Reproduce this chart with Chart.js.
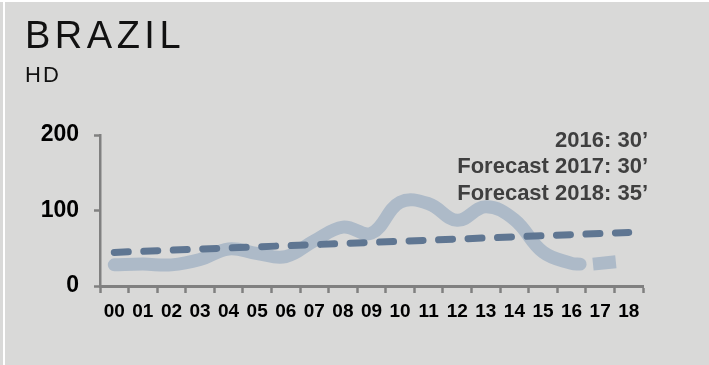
<!DOCTYPE html>
<html>
<head>
<meta charset="utf-8">
<script src="https://cdn.jsdelivr.net/npm/chart.js@4/dist/chart.umd.min.js"></script>
<style>
  html, body { margin: 0; padding: 0; }
  body { width: 709px; height: 365px; background: #d9d9d8; position: relative; overflow: hidden; font-family: "Liberation Sans", Arial, sans-serif; }
  .edge-top { position: absolute; left: 0; top: 0; width: 709px; height: 2px; background: #ffffff; }
  .edge-left { position: absolute; left: 3px; top: 0; width: 2px; height: 365px; background: #ffffff; }
  .title { position: absolute; left: 25px; top: 16px; font-size: 38px; line-height: 38px; letter-spacing: 4.5px; color: #111; font-weight: 400; }
  .subtitle { position: absolute; left: 25px; top: 64px; font-size: 22px; line-height: 22px; letter-spacing: 2px; color: #111; }
  #wrap { position: absolute; left: 0; top: 0; width: 709px; height: 365px; }
</style>
</head>
<body>
<div class="edge-top"></div>
<div class="edge-left"></div>
<div id="wrap"><canvas id="chart" width="709" height="365"></canvas></div>
<div class="title">BRAZIL</div>
<div class="subtitle">HD</div>
<script>
// Year labels along the bottom axis
const years = ['00','01','02','03','04','05','06','07','08','09','10','11','12','13','14','15','16','17','18'];
// Value axis ticks
const yTicks = [0, 100, 200];

// Measured HD values (position in years from 2000)
const actualYear = [0, 1, 2, 3, 4, 5, 6, 7, 8, 9, 10, 11, 12, 13, 14, 15, 16, 16.3];
const actualHD   = [28, 29, 28, 35, 49, 43, 39, 60, 78, 70, 111, 109, 87, 105, 88, 45, 30, 29];

// Forecast stub after 2016
const forecastYear = [16.75, 17.55];
const forecastHD   = [29, 32];

// Long-run trend (start and end of the straight dashed line)
const trendYear = [0, 18];
const trendHD   = [44.5, 71];

// Notes printed at the top right of the plot
const notes = ['2016: 30\u2019', 'Forecast 2017: 30\u2019', 'Forecast 2018: 35\u2019'];

const toPoints = (xs, ys) => xs.map((x, i) => ({ x: x, y: ys[i] }));

const AXIS_GREY = '#808080';
const LIGHT = '#adbac8';
const DARK = '#5f7692';

const notesPlugin = {
  id: 'notes',
  afterDraw(chart) {
    const { ctx, chartArea } = chart;
    ctx.save();
    ctx.font = 'bold 22px "Liberation Sans", Arial, sans-serif';
    ctx.fillStyle = '#3f3f3f';
    ctx.textAlign = 'right';
    ctx.textBaseline = 'alphabetic';
    notes.forEach((t, i) => {
      ctx.fillText(t, chartArea.right + 5, chartArea.top + 11.5 + i * 26.7);
    });
    ctx.restore();
  }
};

new Chart(document.getElementById('chart'), {
  type: 'line',
  data: {
    labels: years,
    datasets: [
      {
        label: 'Trend',
        data: toPoints(trendYear, trendHD),
        xAxisID: 'xv',
        borderColor: DARK,
        borderWidth: 7,
        borderDash: [14, 15.5],
        borderCapStyle: 'round',
        pointRadius: 0,
        tension: 0,
        fill: false
      },
      {
        label: 'HD',
        data: toPoints(actualYear, actualHD),
        xAxisID: 'xv',
        borderColor: LIGHT,
        borderWidth: 13,
        borderCapStyle: 'round',
        borderJoinStyle: 'round',
        pointRadius: 0,
        tension: 0.4,
        fill: false
      },
      {
        label: 'Forecast',
        data: toPoints(forecastYear, forecastHD),
        xAxisID: 'xv',
        borderColor: LIGHT,
        borderWidth: 13,
        borderCapStyle: 'butt',
        pointRadius: 0,
        tension: 0,
        fill: false
      }
    ]
  },
  options: {
    responsive: false,
    animation: false,
    devicePixelRatio: 1,
    layout: { padding: { left: 30, right: 66, top: 135, bottom: 34 } },
    plugins: { legend: { display: false }, tooltip: { enabled: false }, title: { display: false } },
    scales: {
      x: {
        type: 'category',
        offset: true,
        grid: { offset: true, drawOnChartArea: false, tickLength: 7, tickColor: AXIS_GREY, tickWidth: 2.5 },
        border: { color: AXIS_GREY, width: 3 },
        ticks: { color: '#000', font: { family: '"Liberation Sans", Arial, sans-serif', size: 19, weight: 'bold' }, padding: 7, maxRotation: 0, autoSkip: false },
        afterFit(scale) { scale.height = 45; }
      },
      xv: {
        type: 'linear',
        display: false,
        min: -0.5,
        max: years.length - 0.5
      },
      y: {
        min: yTicks[0],
        max: yTicks[yTicks.length - 1],
        afterBuildTicks(scale) { scale.ticks = yTicks.map(v => ({ value: v })); },
        grid: { drawOnChartArea: false, tickLength: 6, tickColor: AXIS_GREY, tickWidth: 2.5 },
        border: { color: AXIS_GREY, width: 2.5 },
        ticks: { color: '#000', font: { family: '"Liberation Sans", Arial, sans-serif', size: 23, weight: 'bold' }, padding: 15 },
        afterFit(scale) { scale.width = 70; }
      }
    }
  },
  plugins: [notesPlugin]
});
</script>
</body>
</html>
